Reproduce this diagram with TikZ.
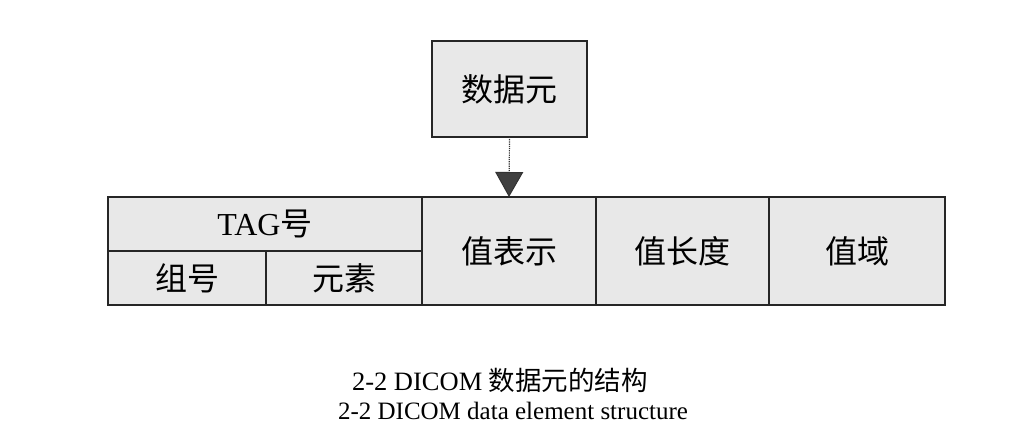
\documentclass[tikz,border=0pt]{standalone}
\usepackage{fontspec}
\setmainfont{Liberation Serif}
\newfontfamily\cjk{Noto Sans CJK SC}
\usetikzlibrary{arrows.meta}
\begin{document}
\begin{tikzpicture}[x=1pt,y=1pt,
  cell/.style={draw=black!85,line width=1.1pt,fill=black!9,inner sep=0pt,outer sep=0pt,
    font=\fontsize{32}{35}\selectfont},
  captext/.style={font=\fontsize{25}{28}\selectfont,inner sep=0pt}]
\useasboundingbox (0,0) rectangle (1019,433);
\node[cell,minimum width=155,minimum height=96] (top) at (509.5,344) {\cjk 数据元};
\node[cell,minimum width=314,minimum height=54] (tag) at (265,209) {TAG{\cjk 号}};
\node[cell,minimum width=158,minimum height=54] (zu) at (187,155) {\cjk 组号};
\node[cell,minimum width=156,minimum height=54] (yuan) at (344,155) {\cjk 元素};
\node[cell,minimum width=174,minimum height=108] (vr) at (509,182) {\cjk 值表示};
\node[cell,minimum width=173,minimum height=108] (vl) at (682.5,182) {\cjk 值长度};
\node[cell,minimum width=176,minimum height=108] (vf) at (857,182) {\cjk 值域};
\draw[line width=1.2pt,densely dotted,draw=black!80,-{Triangle[width=28pt,length=25pt,fill=black!75,line width=1pt]}] (top.south) -- (vr.north);
\node[captext,font=\fontsize{26.5}{29}\selectfont] (c1) at (500,53) {2-2 DICOM {\cjk 数据元的结构}};
\node[captext] (c2) at (513,22) {2-2 DICOM data element structure};
\end{tikzpicture}
\end{document}
